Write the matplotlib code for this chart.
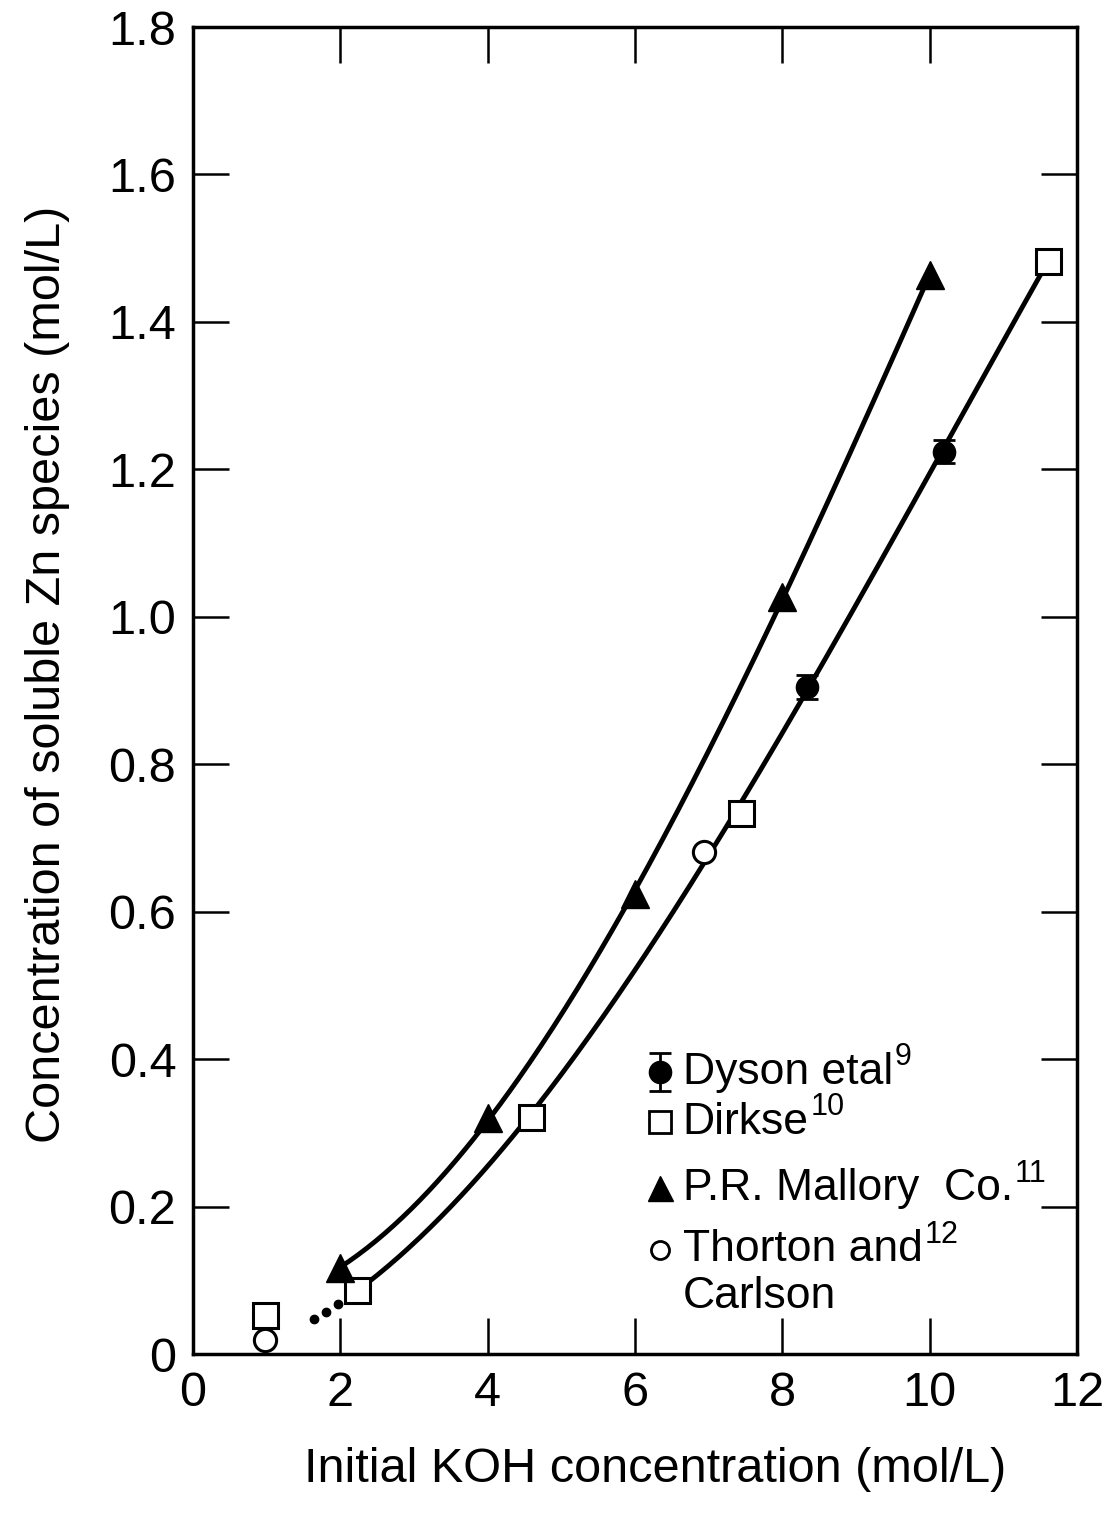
import numpy as np
import matplotlib
matplotlib.use("Agg")
import matplotlib.pyplot as plt

# KOH concentration (mol/L) vs soluble Zn (mol/L)
dyson_x = [8.33, 10.19]
dyson_y = [0.905, 1.224]
dyson_err = [0.016, 0.016]

dirkse_x = [0.98, 2.23, 4.59, 7.44, 11.6]
dirkse_y = [0.053, 0.087, 0.322, 0.734, 1.483]

mallory_x = [2.0, 4.0, 6.0, 8.0, 10.0]
mallory_y = [0.117, 0.320, 0.624, 1.027, 1.463]

thornton_x = [0.98, 6.94]
thornton_y = [0.019, 0.681]

# dotted extrapolation toward the origin
extrap_x = [1.64, 1.80, 1.97]
extrap_y = [0.047, 0.057, 0.068]

xticks = [0, 2, 4, 6, 8, 10, 12]
yticks = [0, 0.2, 0.4, 0.6, 0.8, 1.0, 1.2, 1.4, 1.6, 1.8]
ytick_labels = ["0", "0.2", "0.4", "0.6", "0.8", "1.0", "1.2", "1.4", "1.6", "1.8"]

plt.rcParams['font.family'] = ['Liberation Sans', 'DejaVu Sans']

fig = plt.figure(figsize=(11.1, 15.26), dpi=100)
ax = fig.add_axes([0.1739, 0.1127, 0.7964, 0.8696])

# smooth curves through each data set
p_up = np.polyfit(mallory_x, mallory_y, 3)
xu = np.linspace(mallory_x[0], mallory_x[-1], 200)
ax.plot(xu, np.polyval(p_up, xu), color='black', lw=3.5, zorder=2)

low_x = dirkse_x[1:] + dyson_x + thornton_x[1:]
low_y = dirkse_y[1:] + dyson_y + thornton_y[1:]
p_low = np.polyfit(low_x, low_y, 3)
xl = np.linspace(dirkse_x[1], dirkse_x[-1], 200)
ax.plot(xl, np.polyval(p_low, xl), color='black', lw=3.5, zorder=2)

ax.plot(extrap_x, extrap_y, 'o', color='black', ms=6, zorder=3)

ax.errorbar(dyson_x, dyson_y, yerr=dyson_err, fmt='o', color='black',
            ms=16, capsize=8, elinewidth=2, capthick=2, zorder=4)
ax.plot(dirkse_x, dirkse_y, 's', mfc='white', mec='black', mew=2.2, ms=18, zorder=4)
ax.plot(mallory_x, mallory_y, '^', color='black', ms=20, zorder=4)
ax.plot(thornton_x, thornton_y, 'o', mfc='white', mec='black', mew=2.2, ms=16, zorder=4)

ax.set_xlim(0, 12)
ax.set_ylim(0, 1.8)
ax.set_xticks(xticks)
ax.set_xticklabels([str(t) for t in xticks])
ax.set_yticks(yticks)
ax.set_yticklabels(ytick_labels)
ax.tick_params(direction='in', length=26, width=1.8, labelsize=35,
               top=True, right=True, pad=12)
for s in ax.spines.values():
    s.set_linewidth(2.5)

fig.text(0.590, 0.0367, "Initial KOH concentration (mol/L)", fontsize=35,
         ha='center', va='center')
fig.text(0.0425, 0.558, "Concentration of soluble Zn species (mol/L)", fontsize=35,
         ha='center', va='center', rotation=90)

# legend drawn by hand
lx, tx = 0.528, 0.554
rows = [0.2125, 0.1748, 0.125, 0.0784]
ax.errorbar([lx], [rows[0]], yerr=[0.014], fmt='o', color='black', ms=16,
            capsize=8, elinewidth=2, capthick=2, transform=ax.transAxes)
ax.plot([lx], [rows[1]], 's', mfc='white', mec='black', mew=2, ms=16, transform=ax.transAxes)
ax.plot([lx], [rows[2]], '^', color='black', ms=18, transform=ax.transAxes)
ax.plot([lx], [rows[3]], 'o', mfc='white', mec='black', mew=2, ms=13, transform=ax.transAxes)

fs = 32
labels = ["Dyson etal", "Dirkse", "P.R. Mallory  Co.", "Thorton and"]
sups = ["9", "10", "11", "12"]
for yy, lab, sup in zip(rows, labels, sups):
    t = ax.text(tx, yy, lab, transform=ax.transAxes, fontsize=fs,
                va='center', ha='left')
    fig.canvas.draw()
    bb = t.get_window_extent().transformed(ax.transAxes.inverted())
    ax.text(bb.x1 + 0.002, yy + 0.011, sup, transform=ax.transAxes, fontsize=22,
            va='center', ha='left')
ax.text(tx, 0.043, "Carlson", transform=ax.transAxes, fontsize=fs,
        va='center', ha='left')

fig.savefig("out.png", dpi=100)
